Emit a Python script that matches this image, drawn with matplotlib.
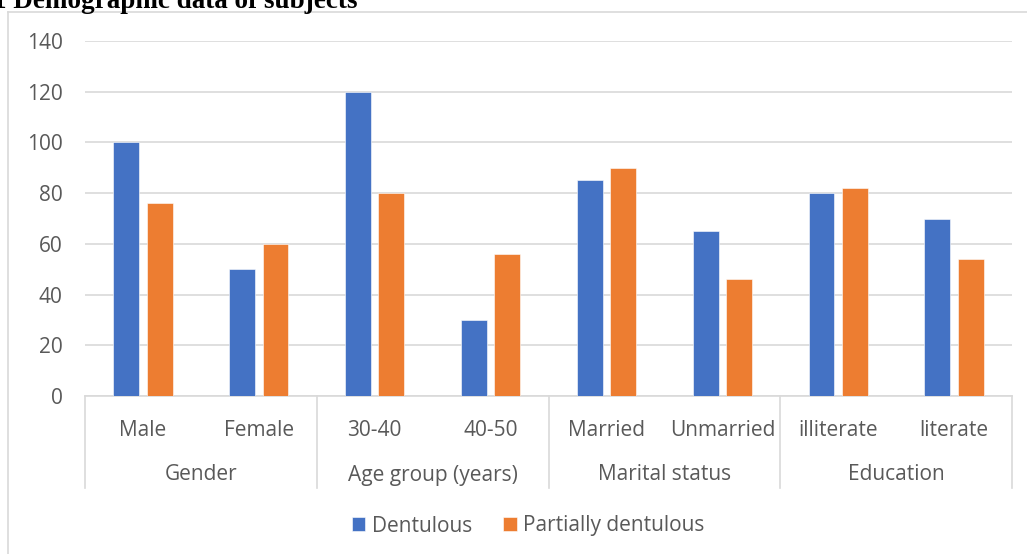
import numpy as np
import matplotlib
matplotlib.use("Agg")
from matplotlib import pyplot as plt
from matplotlib.lines import Line2D

# demographic counts per subgroup
categories = ["Male", "Female", "30-40", "40-50", "Married", "Unmarried", "illiterate", "literate"]
groups = ["Gender", "Age group (years)", "Marital status", "Education"]
dentulous = [100, 50, 120, 30, 85, 65, 80, 70]
partially_dentulous = [76, 60, 80, 56, 90, 46, 82, 54]
y_ticks = [0, 20, 40, 60, 80, 100, 120, 140]

W, H = 1027, 554
TEXT = "#595959"
GRID = "#d9d9d9"
FS = 15

plt.rcParams["font.family"] = ["Open Sans", "DejaVu Sans"]

fig = plt.figure(figsize=(W / 100, H / 100), dpi=100)

# plot area placed in pixel terms
left, right, top, bottom = 85, 1012, 41, 396
ax = fig.add_axes([left / W, 1 - bottom / H, (right - left) / W, (bottom - top) / H])

x = np.arange(len(categories))
bar_w = 0.224
off = 0.144
ax.bar(x - off, dentulous, bar_w, color="#4472C4", edgecolor="white", linewidth=0.4,
       label="Dentulous", zorder=3)
ax.bar(x + off, partially_dentulous, bar_w, color="#ED7D31", edgecolor="white", linewidth=0.4,
       label="Partially dentulous", zorder=3)

ax.set_xlim(-0.5, len(categories) - 0.5)
ax.set_ylim(0, 140)
ax.set_yticks(y_ticks)
ax.yaxis.grid(True, color=GRID, linewidth=1.2, zorder=0)
ax.set_xticks([])
for s in ["left", "right", "top"]:
    ax.spines[s].set_visible(False)
ax.spines["bottom"].set_color(GRID)
ax.spines["bottom"].set_linewidth(1.2)
ax.tick_params(axis="y", length=0, pad=16, labelsize=FS, labelcolor=TEXT)

# two-level category axis
px = 1 / (bottom - top)
trans = ax.get_xaxis_transform()
for i, c in enumerate(categories):
    ax.text(i, -34 * px, c, transform=trans, ha="center", va="center",
            fontsize=FS, color=TEXT)
for g, name in enumerate(groups):
    ax.text(2 * g + 0.5, -79 * px, name, transform=trans, ha="center", va="center",
            fontsize=FS, color=TEXT)
for b in np.arange(-0.5, len(categories), 2):
    ax.plot([b, b], [0, -92 * px], transform=trans, color=GRID, linewidth=1.2,
            clip_on=False)

fig.legend(loc="center", bbox_to_anchor=(528 / W, 1 - 526 / H), ncol=2, frameon=False,
           fontsize=FS, labelcolor=TEXT, handlelength=0.65, handleheight=0.65,
           handletextpad=0.3, columnspacing=1.5)

# outer chart frame
fig.add_artist(Line2D([8 / W, 8 / W], [0, 1 - 12 / H], transform=fig.transFigure,
                      color=GRID, linewidth=1.2))
fig.add_artist(Line2D([8 / W, 1], [1 - 12 / H, 1 - 12 / H], transform=fig.transFigure,
                      color=GRID, linewidth=1.2))

fig.text(-7 / W, 1 - 8 / H, "1 Demographic data of subjects", family="Liberation Serif",
         fontweight="bold", fontsize=19.5, color="black", ha="left", va="baseline")

fig.savefig("out.png", dpi=100)
